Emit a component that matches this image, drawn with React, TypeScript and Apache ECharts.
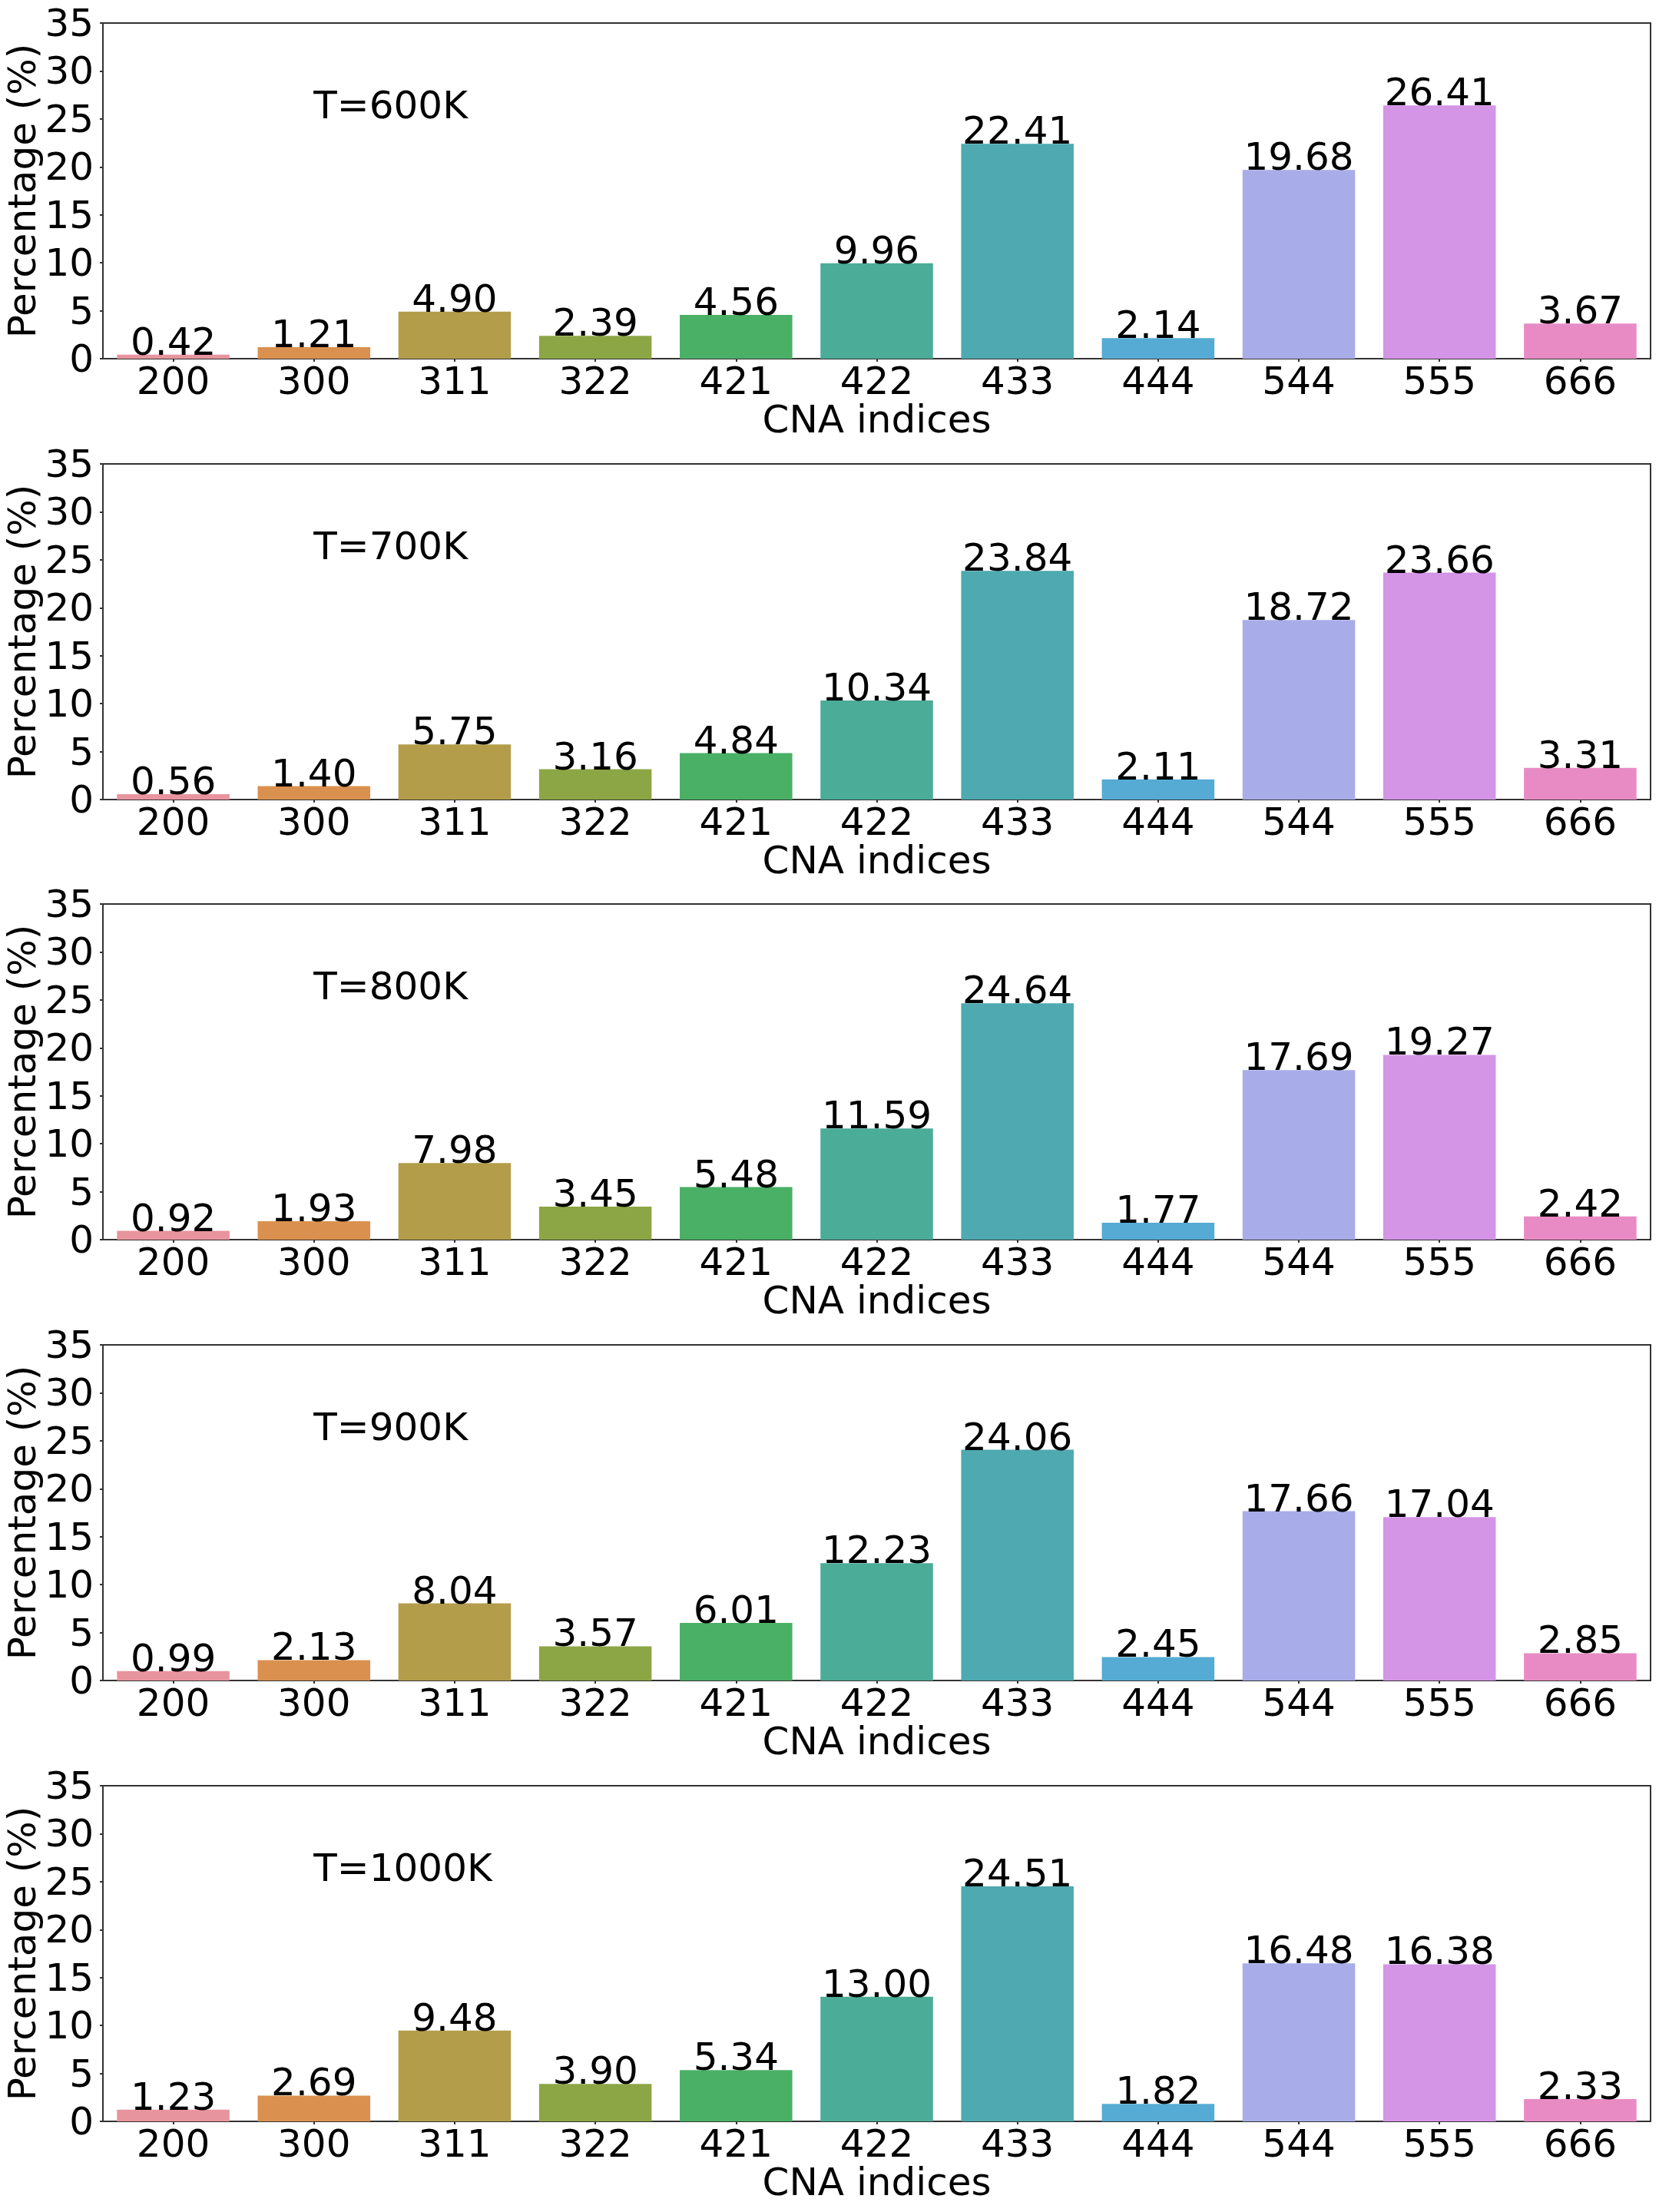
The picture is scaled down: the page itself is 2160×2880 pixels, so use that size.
import React, { useEffect, useRef } from "react";
import * as echarts from "echarts";

const categories = ["200", "300", "311", "322", "421", "422", "433", "444", "544", "555", "666"];

const temperatures = ["T=600K", "T=700K", "T=800K", "T=900K", "T=1000K"];

const values600 = [0.42, 1.21, 4.9, 2.39, 4.56, 9.96, 22.41, 2.14, 19.68, 26.41, 3.67];
const values700 = [0.56, 1.4, 5.75, 3.16, 4.84, 10.34, 23.84, 2.11, 18.72, 23.66, 3.31];
const values800 = [0.92, 1.93, 7.98, 3.45, 5.48, 11.59, 24.64, 1.77, 17.69, 19.27, 2.42];
const values900 = [0.99, 2.13, 8.04, 3.57, 6.01, 12.23, 24.06, 2.45, 17.66, 17.04, 2.85];
const values1000 = [1.23, 2.69, 9.48, 3.9, 5.34, 13.0, 24.51, 1.82, 16.48, 16.38, 2.33];

const barColors = [
  "#e8949e",
  "#da914f",
  "#b39d4a",
  "#8ca646",
  "#4ab066",
  "#4bac98",
  "#4ea9b0",
  "#55abd3",
  "#a8ace8",
  "#d495e6",
  "#e88bc4",
];

const yTicks = { min: 0, max: 35, interval: 5 };
const annotationAt = { category: 1, value: 25 };

const allValues = [values600, values700, values800, values900, values1000];

const FONT = "DejaVu Sans";
const FS = 50;

export default function App() {
  const ref = useRef<HTMLDivElement>(null);

  useEffect(() => {
    if (!ref.current) return;
    const chart = echarts.init(ref.current, undefined, { renderer: "svg" });

    const tops = [30, 604, 1177, 1751, 2325];
    const grids = tops.map((t) => ({
      left: 134,
      width: 2015,
      top: t,
      height: 437,
      show: true,
      borderColor: "#333",
      borderWidth: 2,
      backgroundColor: "transparent",
      containLabel: false,
      outerBoundsMode: "none",
    }));

    const xAxes = tops.map((_, i) => ({
      type: "category",
      gridIndex: i,
      data: categories,
      boundaryGap: true,
      name: "CNA indices",
      nameLocation: "middle",
      nameGap: 59,
      nameMoveOverlap: false,
      nameTextStyle: { fontFamily: FONT, fontSize: FS, color: "#000", lineHeight: 40 },
      axisLine: { show: true, lineStyle: { color: "#333", width: 2 } },
      axisTick: { show: true, alignWithLabel: true, length: 4, lineStyle: { color: "#333", width: 2 } },
      axisLabel: { interval: 0, margin: 9, fontFamily: FONT, fontSize: FS, color: "#000", lineHeight: 40 },
      splitLine: { show: false },
    }));

    const yAxes = tops.map((_, i) => ({
      type: "value",
      gridIndex: i,
      min: yTicks.min,
      max: yTicks.max,
      interval: yTicks.interval,
      name: "Percentage (%)",
      nameLocation: "middle",
      nameRotate: 90,
      nameGap: 80,
      nameMoveOverlap: false,
      nameTextStyle: { fontFamily: FONT, fontSize: FS, color: "#000", lineHeight: 50 },
      axisLine: { show: true, lineStyle: { color: "#333", width: 2 } },
      axisTick: { show: true, length: 4, lineStyle: { color: "#333", width: 2 } },
      axisLabel: { margin: 12, fontFamily: FONT, fontSize: FS, color: "#000", lineHeight: 50 },
      splitLine: { show: false },
    }));

    const series = allValues.map((vals, i) => ({
      type: "bar",
      xAxisIndex: i,
      yAxisIndex: i,
      barWidth: "80%",
      data: vals.map((v, j) => ({ value: v, itemStyle: { color: barColors[j] } })),
      label: {
        show: true,
        position: "top",
        distance: -8,
        formatter: (p: any) => Number(p.value).toFixed(2),
        fontFamily: FONT,
        fontSize: FS,
        color: "#000",
        lineHeight: 50,
      },
      markPoint: {
        symbol: "circle",
        symbolSize: 1,
        itemStyle: { color: "rgba(0,0,0,0)" },
        data: [
          {
            coord: [annotationAt.category, annotationAt.value],
            label: {
              show: true,
              formatter: temperatures[i],
              position: [0, 8],
              align: "left",
              verticalAlign: "bottom",
              fontFamily: FONT,
              fontSize: FS,
              color: "#000",
              lineHeight: 50,
            },
          },
        ],
      },
    }));

    chart.setOption({
      animation: false,
      backgroundColor: "#fff",
      grid: grids,
      xAxis: xAxes,
      yAxis: yAxes,
      series,
    } as any);

    return () => chart.dispose();
  }, []);

  return (
    <div
      ref={ref}
      style={{ position: "absolute", left: 0, top: 0, width: 2160, height: 2880 }}
    />
  );
}
